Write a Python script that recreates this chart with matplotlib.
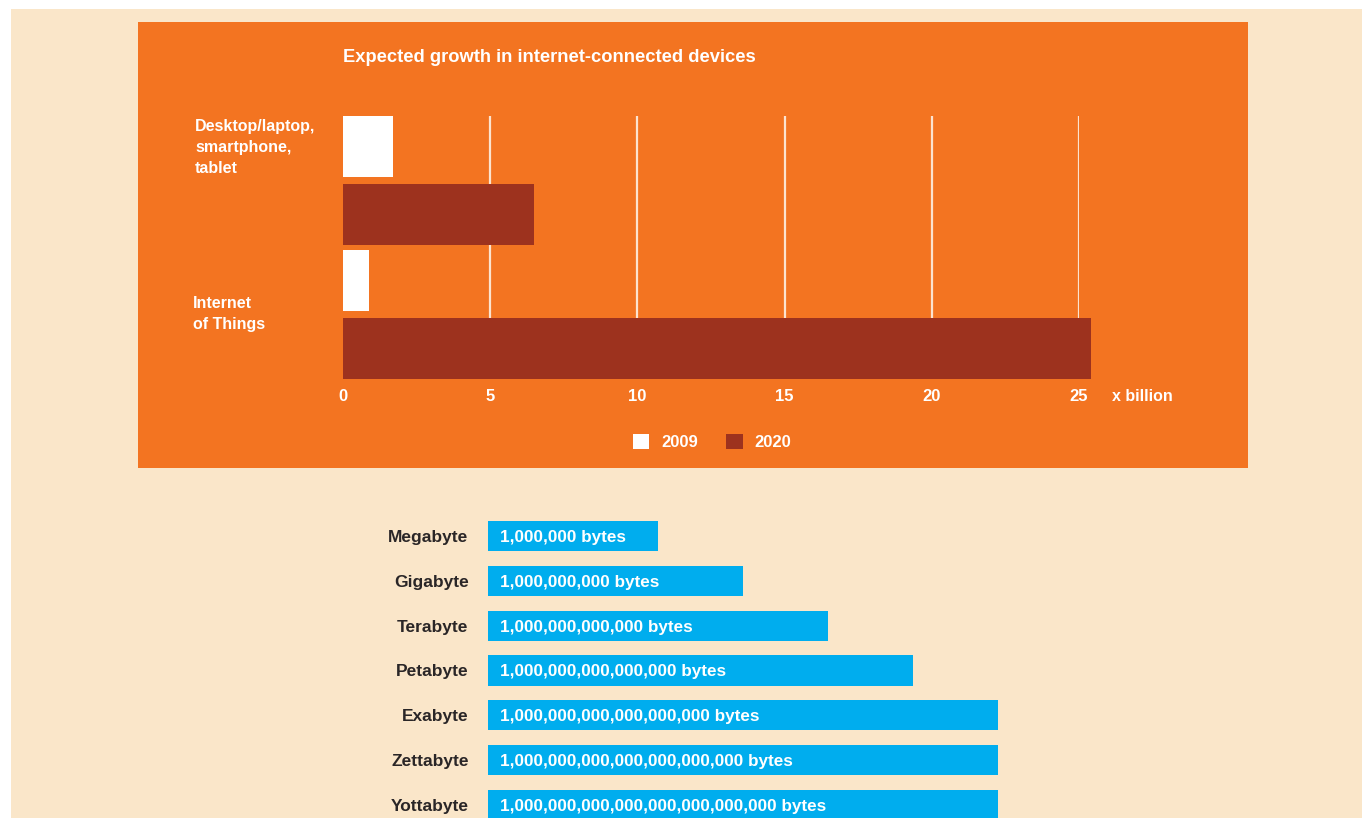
import matplotlib
matplotlib.use("Agg")
import matplotlib.pyplot as plt
from matplotlib import font_manager
from matplotlib.patches import Rectangle, Patch

# pick a condensed-ish font if it is there
names = {f.name for f in font_manager.fontManager.ttflist}
FONT = "Liberation Sans Narrow" if "Liberation Sans Narrow" in names else "Liberation Sans"
plt.rcParams["font.family"] = [FONT, "DejaVu Sans"]
plt.rcParams["font.weight"] = "bold"

# data: devices chart (billions)
categories = ["Desktop/laptop,\nsmartphone,\ntablet", "Internet\nof Things"]
years = ["2009", "2020"]
values_2009 = [1.7, 0.9]
values_2020 = [6.5, 25.4]
xticks = [0, 5, 10, 15, 20, 25]

# data: byte sizes (relative bar length)
units = ["Megabyte", "Gigabyte", "Terabyte", "Petabyte", "Exabyte", "Zettabyte", "Yottabyte"]
unit_len = [2, 3, 4, 5, 6, 6, 6]
unit_text = [
    "1,000,000 bytes",
    "1,000,000,000 bytes",
    "1,000,000,000,000 bytes",
    "1,000,000,000,000,000 bytes",
    "1,000,000,000,000,000,000 bytes",
    "1,000,000,000,000,000,000,000 bytes",
    "1,000,000,000,000,000,000,000,000 bytes",
]

BEIGE = "#FAE6C9"
ORANGE = "#F37421"
BROWN = "#9D321E"
BLUE = "#00ADEE"
DARK = "#2A2627"

W, H = 1362, 818
fig = plt.figure(figsize=(W / 100, H / 100), dpi=100, facecolor="white")


def px(x):
    return x / W


def py(y):
    return 1 - y / H


def box(l, t, r, b):
    return [px(l), py(b), px(r) - px(l), py(t) - py(b)]


fig.patches.append(Rectangle((px(11), 0), 1 - px(11), py(9), transform=fig.transFigure,
                             facecolor=BEIGE, edgecolor="none", zorder=-2))
fig.patches.append(Rectangle((px(138), py(468)), px(1248) - px(138), py(22) - py(468),
                             transform=fig.transFigure, facecolor=ORANGE, edgecolor="none", zorder=-1))

# ---- top chart
ax = fig.add_axes(box(343, 116, 1079, 379))
ax.set_facecolor("none")
for s in ax.spines.values():
    s.set_visible(False)
pos = range(len(categories))
off, h = 0.254, 0.455
ax.barh([p - off for p in pos], values_2009, height=h, color="white", zorder=3, clip_on=False)
ax.barh([p + off for p in pos], values_2020, height=h, color=BROWN, zorder=3, clip_on=False)
for t in xticks[1:]:
    ax.axvline(t, color="#FCE3CF", lw=1.6, zorder=1)
ax.set_xlim(0, 25)
ax.set_ylim(1.481, -0.481)
ax.set_yticks([])
ax.set_xticks(xticks)
ax.set_xticklabels([str(t) for t in xticks], color="white", fontsize=12, fontweight="bold")
ax.tick_params(axis="x", length=0, pad=7)
ax.text(1.045, -0.065, "x billion", transform=ax.transAxes, color="white",
        fontsize=11.5, fontweight="bold", ha="left", va="center")

fig.text(px(343), py(57), "Expected growth in internet-connected devices", color="white",
         fontsize=13.2, fontweight="bold", ha="left", va="center")
fig.text(px(195), py(119), categories[0], color="white", fontsize=11.5, fontweight="bold",
         ha="left", va="top", linespacing=1.5)
fig.text(px(193), py(296), categories[1], color="white", fontsize=11.5, fontweight="bold",
         ha="left", va="top", linespacing=1.5)

fig.legend(handles=[Patch(facecolor="white"), Patch(facecolor=BROWN)], labels=years,
           loc="center", bbox_to_anchor=(px(712), py(442)), ncol=2, frameon=False,
           handlelength=1.0, handleheight=1.0, handletextpad=0.7, columnspacing=1.7,
           labelcolor="white", prop={"family": FONT, "weight": "bold", "size": 12})

# ---- bytes chart
bx = fig.add_axes(box(488, 514, 998, 818))
bx.set_facecolor("none")
for s in bx.spines.values():
    s.set_visible(False)
ypos = list(range(len(units)))
bx.barh(ypos, unit_len, height=0.67, color=BLUE)
bx.set_xlim(0, 6)
bx.set_ylim(6.29, -0.49)
bx.set_xticks([])
bx.set_yticks(ypos)
bx.set_yticklabels(units, color=DARK, fontsize=12.5, fontweight="bold")
bx.tick_params(axis="y", length=0, pad=14)
for y, t in zip(ypos, unit_text):
    bx.annotate(t, xy=(0, y), xytext=(12, 0), textcoords="offset pixels", color="white",
                fontsize=12.3, fontweight="bold", ha="left", va="center_baseline")

fig.savefig("out.png", dpi=100, facecolor="white")
